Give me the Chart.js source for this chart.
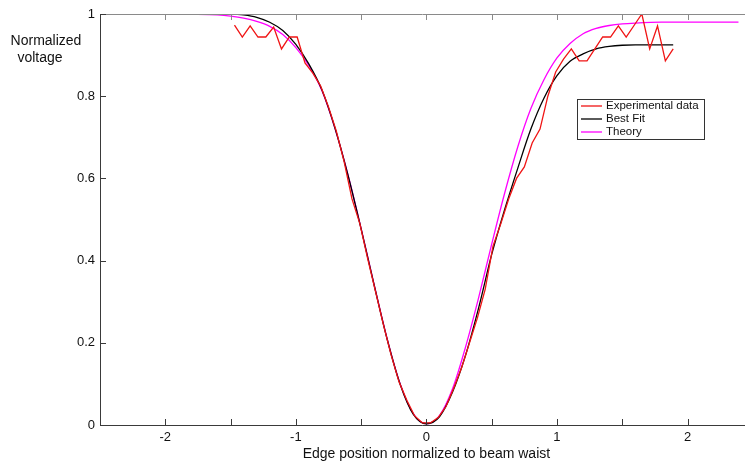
<!DOCTYPE html>
<html lang="en">
<head>
    <meta charset="UTF-8">
    <title>Edge scan</title>
    <style>
        body { margin: 0; background-color: #fff; }
        canvas { display: block; }
    </style>
</head>
<body>
    <canvas id="edgeChart" width="745" height="463"></canvas>
    <script src="https://cdn.jsdelivr.net/npm/chart.js"></script>
    <script>
        const seriesNames = ['Experimental data', 'Best Fit', 'Theory'];
        const seriesColors = ['#f01414', '#000000', '#ff00ff'];

        const expX = [-1.47, -1.41, -1.35, -1.29, -1.23, -1.17, -1.11, -1.05, -0.99, -0.93,
            -0.87, -0.81, -0.75, -0.69, -0.63, -0.57, -0.51, -0.45, -0.39, -0.33,
            -0.27, -0.21, -0.15, -0.09, -0.03, 0.03, 0.09, 0.15, 0.21, 0.27,
            0.33, 0.39, 0.45, 0.51, 0.57, 0.63, 0.69, 0.75, 0.81, 0.87,
            0.93, 0.99, 1.05, 1.11, 1.17, 1.23, 1.29, 1.35, 1.41, 1.47,
            1.53, 1.59, 1.65, 1.71, 1.77, 1.83, 1.89];
        const expY = [0.973, 0.944, 0.971, 0.944, 0.944, 0.968, 0.915, 0.944, 0.944, 0.881,
            0.856, 0.825, 0.774, 0.715, 0.64, 0.55, 0.49, 0.405, 0.325, 0.245,
            0.17, 0.105, 0.06, 0.022, 0.005, 0.005, 0.018, 0.045, 0.09, 0.14,
            0.2, 0.26, 0.33, 0.435, 0.49, 0.55, 0.6, 0.628, 0.686, 0.72,
            0.8, 0.859, 0.89, 0.915, 0.886, 0.886, 0.915, 0.944, 0.944, 0.971,
            0.944, 0.972, 1.0, 0.915, 0.971, 0.886, 0.915];

        const fitX = [-1.47, -1.4, -1.3, -1.2, -1.1, -1.0, -0.9, -0.8, -0.7, -0.6, -0.5, -0.4, -0.3, -0.2, -0.1,
            0, 0.1, 0.2, 0.3, 0.4, 0.5, 0.6, 0.7, 0.8, 0.9, 1.0, 1.1, 1.2, 1.3, 1.4, 1.5, 1.6, 1.8, 1.89];
        const fitY = [1.0, 0.998, 0.992, 0.98, 0.96, 0.926, 0.878, 0.815, 0.722, 0.607, 0.477, 0.34, 0.208, 0.098, 0.026,
            0.003, 0.02, 0.08, 0.17, 0.285, 0.415, 0.525, 0.625, 0.72, 0.795, 0.85, 0.885, 0.903, 0.915, 0.921, 0.924, 0.925, 0.925, 0.925];

        const theoryX = [-2.5, -2.0, -1.8, -1.6, -1.5, -1.4, -1.3, -1.2, -1.1, -1.0, -0.9, -0.8, -0.7, -0.6, -0.5, -0.4, -0.3, -0.2, -0.1,
            0, 0.1, 0.2, 0.3, 0.4, 0.5, 0.6, 0.7, 0.8, 0.9, 1.0, 1.1, 1.2, 1.3, 1.4, 1.5, 1.6, 1.8, 2.0, 2.39];
        const theoryY = [1.0, 1.0, 0.9995, 0.998, 0.995, 0.99, 0.982, 0.97, 0.95, 0.918, 0.874, 0.813, 0.721, 0.608, 0.478, 0.341, 0.209, 0.099, 0.027,
            0.003, 0.023, 0.088, 0.19, 0.31, 0.44, 0.565, 0.677, 0.77, 0.84, 0.893, 0.928, 0.952, 0.965, 0.972, 0.976, 0.978, 0.98, 0.98, 0.98];

        const xTicks = [-2, -1.5, -1, -0.5, 0, 0.5, 1, 1.5, 2];
        const yTicks = [0, 0.2, 0.4, 0.6, 0.8, 1];
        const xTitle = 'Edge position normalized to beam waist';
        const yTitle = ['Normalized', 'voltage'];

        const fontFamily = "'Liberation Sans', Arial, sans-serif";

        function toPoints(xs, ys) {
            return xs.map((v, i) => ({ x: v, y: ys[i] }));
        }

        // box axes with inward ticks, horizontal y title and the legend box
        const axisBox = {
            id: 'axisBox',
            afterDraw(chart) {
                const { ctx, chartArea: a, scales: { x, y } } = chart;
                ctx.save();
                ctx.lineWidth = 1;

                ctx.strokeStyle = '#8a8a8a';
                ctx.beginPath();
                ctx.moveTo(a.left, a.top + 0.5);
                ctx.lineTo(a.right, a.top + 0.5);
                xTicks.forEach(v => {
                    const px = Math.round(x.getPixelForValue(v)) + 0.5;
                    ctx.moveTo(px, a.top);
                    ctx.lineTo(px, a.top + 6);
                });
                ctx.stroke();

                ctx.strokeStyle = '#3a3a3a';
                ctx.beginPath();
                ctx.moveTo(a.left + 0.5, a.top);
                ctx.lineTo(a.left + 0.5, a.bottom + 0.5);
                ctx.lineTo(a.right, a.bottom + 0.5);
                xTicks.forEach(v => {
                    const px = Math.round(x.getPixelForValue(v)) + 0.5;
                    ctx.moveTo(px, a.bottom);
                    ctx.lineTo(px, a.bottom - 6);
                });
                yTicks.forEach(v => {
                    const py = Math.round(y.getPixelForValue(v)) + 0.5;
                    ctx.moveTo(a.left, py);
                    ctx.lineTo(a.left + 6, py);
                });
                ctx.stroke();

                ctx.fillStyle = '#111';
                ctx.font = '14px ' + fontFamily;
                ctx.textAlign = 'center';
                ctx.textBaseline = 'alphabetic';
                ctx.fillText(yTitle[0], 46, 45);
                ctx.fillText(yTitle[1], 40, 62);
                ctx.fillText(xTitle, (x.getPixelForValue(0)), 458);

                // legend
                const lx = 577, ly = 99, lw = 127, lh = 40;
                ctx.fillStyle = '#fff';
                ctx.fillRect(lx, ly, lw, lh);
                ctx.strokeStyle = '#333';
                ctx.strokeRect(lx + 0.5, ly + 0.5, lw, lh);
                ctx.font = '11.5px ' + fontFamily;
                ctx.textAlign = 'left';
                ctx.textBaseline = 'middle';
                seriesNames.forEach((name, i) => {
                    const row = ly + 7 + i * 13;
                    ctx.strokeStyle = seriesColors[i];
                    ctx.lineWidth = 1.3;
                    ctx.beginPath();
                    ctx.moveTo(lx + 4, row);
                    ctx.lineTo(lx + 25, row);
                    ctx.stroke();
                    ctx.fillStyle = '#111';
                    ctx.fillText(name, lx + 29, row);
                });
                ctx.restore();
            }
        };

        const ctx = document.getElementById('edgeChart').getContext('2d');
        const edgeChart = new Chart(ctx, {
            type: 'line',
            data: {
                datasets: [{
                    label: seriesNames[0],
                    data: toPoints(expX, expY),
                    borderColor: seriesColors[0],
                    borderWidth: 1.3,
                    pointRadius: 0,
                    tension: 0,
                    order: 1
                }, {
                    label: seriesNames[1],
                    data: toPoints(fitX, fitY),
                    borderColor: seriesColors[1],
                    borderWidth: 1.3,
                    pointRadius: 0,
                    cubicInterpolationMode: 'monotone',
                    order: 2
                }, {
                    label: seriesNames[2],
                    data: toPoints(theoryX, theoryY),
                    borderColor: seriesColors[2],
                    borderWidth: 1.3,
                    pointRadius: 0,
                    cubicInterpolationMode: 'monotone',
                    order: 3
                }]
            },
            options: {
                responsive: false,
                animation: false,
                layout: { padding: { top: 14, left: 0, right: 0, bottom: 0 } },
                plugins: {
                    legend: { display: false },
                    tooltip: { enabled: false }
                },
                scales: {
                    x: {
                        type: 'linear',
                        min: -2.5,
                        max: 2.44,
                        grid: { display: false, drawTicks: false },
                        border: { display: false },
                        afterBuildTicks: scale => {
                            scale.ticks = xTicks.map(v => ({ value: v }));
                        },
                        afterFit: scale => { scale.height = 38; },
                        ticks: {
                            padding: 5,
                            color: '#111',
                            font: { family: fontFamily, size: 13 },
                            callback: v => Number.isInteger(v) ? String(v) : ''
                        }
                    },
                    y: {
                        type: 'linear',
                        min: 0,
                        max: 1,
                        grid: { display: false, drawTicks: false },
                        border: { display: false },
                        afterBuildTicks: scale => {
                            scale.ticks = yTicks.map(v => ({ value: v }));
                        },
                        afterFit: scale => { scale.width = 100; },
                        ticks: {
                            padding: 5,
                            color: '#111',
                            font: { family: fontFamily, size: 13 },
                            callback: v => String(v)
                        }
                    }
                }
            },
            plugins: [axisBox]
        });
    </script>
</body>
</html>
